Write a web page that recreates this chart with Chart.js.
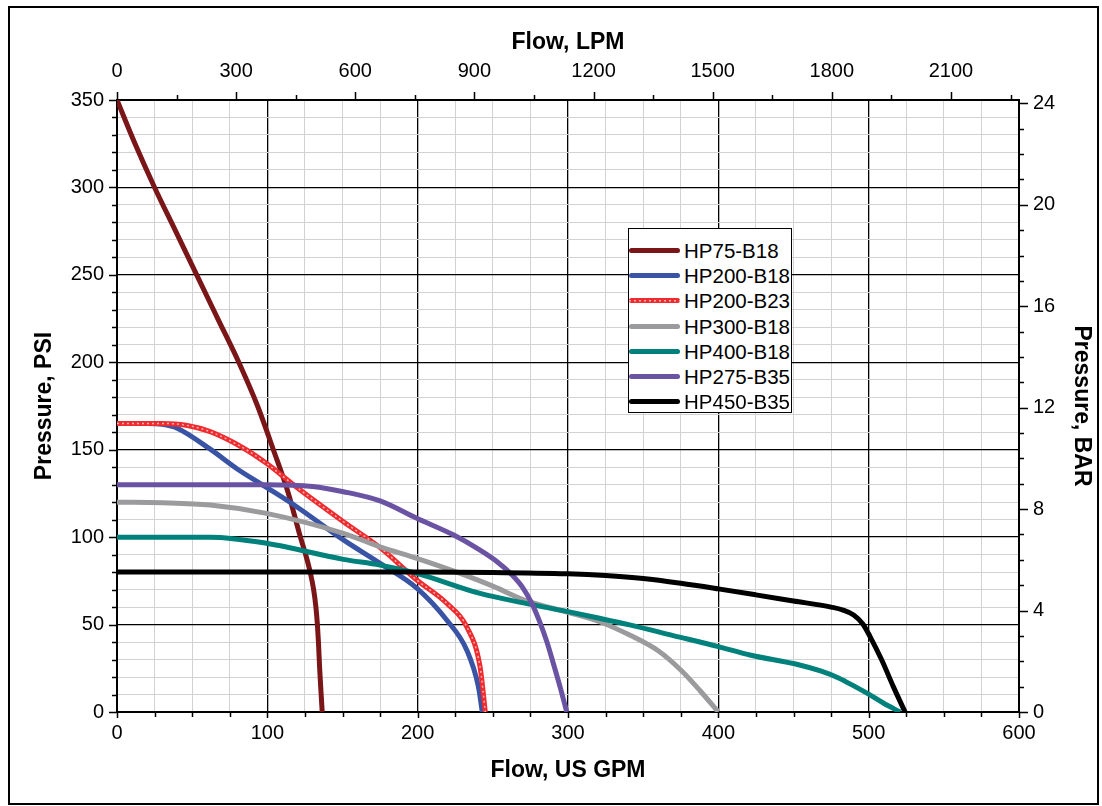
<!DOCTYPE html>
<html>
<head>
<meta charset="utf-8">
<script src="https://cdn.jsdelivr.net/npm/chart.js@4.4.1/dist/chart.umd.min.js"></script>
<style>
  body { margin: 0; background: #fff; font-family: "Liberation Sans", Arial, sans-serif; }
  #wrap { position: relative; width: 1102px; height: 806px; }
  #frame { position: absolute; left: 8px; top: 6px; width: 1087px; height: 795px; border: 2px solid #000; pointer-events: none; }
  #legend { position: absolute; left: 628px; top: 228px; width: 164px; height: 185px; border: 1px solid #000; background: #fff; box-sizing: border-box; padding-top: 9px; }
  .row { position: relative; height: 25.2px; }
  .row .ln { position: absolute; left: 0px; top: 10px; width: 51px; height: 5px; border-radius: 3px; }
  .row .tx { position: absolute; left: 55px; top: 0px; font-size: 20.5px; line-height: 25px; color: #000; white-space: nowrap; }
</style>
</head>
<body>
<div id="wrap">
  <canvas id="grafica" width="1102" height="806"></canvas>
  <div id="legend"></div>
  <div id="frame"></div>
</div>
<script>
// series names and colours
const names = ["HP75-B18", "HP200-B18", "HP200-B23", "HP300-B18", "HP400-B18", "HP275-B35", "HP450-B35"];
const colors = ["#7a1518", "#3a54a5", "#ee2b2e", "#9b9b9d", "#00817b", "#6b53a3", "#000000"];

// flow (US GPM) and pressure (PSI)
const hp75Gpm = [0, 12, 25, 39, 53, 67, 81, 93.5, 104, 114, 122, 125.5, 128.5, 130.8, 132.3, 133.3, 134, 134.8, 135.8, 136.5];
const hp75Psi = [350, 325, 300, 275, 250, 225, 200, 175, 150, 125, 100, 90, 80, 70, 60, 50, 40, 25, 10, 0];

const hp200b18Gpm = [0, 20, 30, 40, 62, 80, 99.4, 119.5, 150.6, 175, 199.4, 219.3, 232.6, 240.4, 243];
const hp200b18Psi = [165, 165, 164.5, 162.3, 150.3, 139, 128.5, 117.4, 98.4, 85, 70.8, 52.6, 35.5, 14.5, 0];

const hp200b23Gpm = [0, 30, 46, 62, 84, 99.4, 119.5, 150.6, 175, 199.4, 219.3, 232.6, 241.5, 245];
const hp200b23Psi = [165, 165, 164, 160.3, 151, 142.2, 128.5, 108.8, 94, 75.5, 62.2, 48.8, 25.9, 0];

const hp300Gpm = [0, 30, 62, 99.4, 150.6, 175, 199.4, 226, 250, 272.5, 300, 321, 341, 360, 375, 388, 400];
const hp300Psi = [120, 119.7, 118.4, 113.6, 102.2, 94.5, 87.9, 80, 72, 63.5, 57, 51.6, 44, 35, 24, 12, 0];

const hp400Gpm = [0, 30, 62, 99.4, 150.6, 175, 199.4, 241.5, 272.5, 300, 321, 341, 370, 400, 421, 454, 468, 480, 491, 500, 510, 520.9];
const hp400Psi = [100, 100, 100, 96.5, 87.3, 84, 79.3, 67.8, 62, 57.4, 53.6, 49.8, 43.7, 37.4, 32.6, 26.9, 23.5, 19.5, 14.5, 10.2, 5, 0];

const hp275Gpm = [0, 50, 100, 130, 150.6, 175, 199.4, 224, 241.5, 252, 262, 270, 276, 281, 286, 290.5, 295, 299.2];
const hp275Psi = [130, 130, 130, 129, 126, 120.7, 110.8, 101.2, 92.6, 86.5, 79, 71, 62, 52, 40, 27, 13.5, 0];

const hp450Gpm = [0, 100, 200, 250, 300, 325, 350, 375, 400, 425, 450, 475, 483, 490, 496, 501, 508.7, 516.4, 524.2];
const hp450Psi = [80, 80, 80, 79.8, 79, 78, 76.3, 73.6, 70.4, 67, 63.5, 60, 58.3, 55.5, 50.5, 43, 29.7, 14.5, 0];

const seriesGpm = [hp75Gpm, hp200b18Gpm, hp200b23Gpm, hp300Gpm, hp400Gpm, hp275Gpm, hp450Gpm];
const seriesPsi = [hp75Psi, hp200b18Psi, hp200b23Psi, hp300Psi, hp400Psi, hp275Psi, hp450Psi];

// tick labels of the four axes
const gpmLabels = [0, 100, 200, 300, 400, 500, 600];
const psiLabels = [0, 50, 100, 150, 200, 250, 300, 350];
const lpmLabels = [0, 300, 600, 900, 1200, 1500, 1800, 2100];
const barLabels = [0, 4, 8, 12, 16, 20, 24];

// axis ranges and minor steps
const gpmMax = 600;
const psiMax = 350;
const lpmPerGpm = 3.78541;
const psiPerBar = 14.5038;
const gpmMinor = 25, psiMinor = 10, lpmMinor = 150, barMinor = 1;

function puntos(i) {
  return seriesGpm[i].map((g, k) => ({ x: g, y: seriesPsi[i][k] }));
}

const datasets = names.map((n, i) => ({
  label: n,
  data: puntos(i),
  borderColor: colors[i],
  borderWidth: 5,
  cubicInterpolationMode: "monotone",
  pointRadius: 0,
  fill: false,
  xAxisID: "x",
  yAxisID: "y",
  order: 10 - i,
}));
// light dotted trace inside the red curve
datasets.push({
  label: "HP200-B23 dots",
  data: puntos(2),
  borderColor: "rgba(255,190,190,0.9)",
  borderWidth: 1.5,
  borderDash: [2, 3],
  cubicInterpolationMode: "monotone",
  pointRadius: 0,
  fill: false,
  xAxisID: "x",
  yAxisID: "y",
  order: 7,
});

const tickFont = { family: "'Liberation Sans', Arial, sans-serif", size: 20 };
const titleFont = { family: "'Liberation Sans', Arial, sans-serif", size: 23, weight: "bold" };

function esLabel(v, lista) {
  return lista.some((m) => Math.abs(m - v) < 1e-6);
}

// ticks every minor step; labels only where listed
function pasos(max, paso) {
  const t = [];
  for (let k = 0; k * paso <= max + 1e-6; k++) t.push({ value: k * paso });
  return t;
}

// tick marks drawn outside the plot, major longer than minor
const marcas = {
  id: "marcas",
  afterDraw(chart) {
    const ctx = chart.ctx;
    const s = chart.scales;
    ctx.save();
    ctx.strokeStyle = "#000";
    ctx.lineWidth = 1.5;
    ctx.beginPath();
    s.y.ticks.forEach((t) => {
      const y = Math.round(s.y.getPixelForValue(t.value)) + 0.5;
      const l = esLabel(t.value, psiLabels) ? 8 : 5;
      ctx.moveTo(s.y.right - l, y); ctx.lineTo(s.y.right, y);
    });
    s.x.ticks.forEach((t) => {
      const x = Math.round(s.x.getPixelForValue(t.value)) + 0.5;
      const l = esLabel(t.value, gpmLabels) ? 6 : 5;
      ctx.moveTo(x, s.x.top); ctx.lineTo(x, s.x.top + l);
    });
    s.x2.ticks.forEach((t) => {
      const x = Math.round(s.x2.getPixelForValue(t.value)) + 0.5;
      const l = esLabel(t.value, lpmLabels) ? 8 : 5;
      ctx.moveTo(x, s.x2.bottom); ctx.lineTo(x, s.x2.bottom - l);
    });
    s.y2.ticks.forEach((t) => {
      const y = Math.round(s.y2.getPixelForValue(t.value)) + 0.5;
      const l = esLabel(t.value, barLabels) ? 9 : 5;
      ctx.moveTo(s.y2.left, y); ctx.lineTo(s.y2.left + l, y);
    });
    ctx.stroke();
    ctx.restore();
  },
};

const ctx = document.getElementById("grafica");
new Chart(ctx, {
  type: "line",
  data: { datasets: datasets },
  plugins: [marcas],
  options: {
    responsive: false,
    animation: false,
    layout: { padding: 0 },
    plugins: { legend: { display: false }, tooltip: { enabled: false } },
    scales: {
      x: {
        type: "linear",
        position: "bottom",
        min: 0,
        max: gpmMax,
        afterFit: (sc) => { sc.height = 94; },
        afterBuildTicks: (sc) => { sc.ticks = pasos(gpmMax, gpmMinor); },
        ticks: {
          autoSkip: false,
          maxRotation: 0,
          padding: 9,
          color: "#000",
          font: tickFont,
          callback: (v) => (esLabel(v, gpmLabels) ? String(v) : ""),
        },
        grid: {
          drawTicks: false,
          color: (c) => (c.tick && esLabel(c.tick.value, gpmLabels) ? "#000" : "#d2d2d2"),
          lineWidth: (c) => (c.tick && esLabel(c.tick.value, gpmLabels) ? 1.3 : 1),
        },
        border: { display: true, color: "#000", width: 2 },
        title: { display: true, text: "Flow, US GPM", color: "#000", font: titleFont, padding: { top: 0, bottom: 22 } },
      },
      x2: {
        type: "linear",
        position: "top",
        min: 0,
        max: gpmMax * lpmPerGpm,
        afterFit: (sc) => { sc.height = 100; },
        afterBuildTicks: (sc) => { sc.ticks = pasos(gpmMax * lpmPerGpm, lpmMinor); },
        ticks: {
          autoSkip: false,
          maxRotation: 0,
          padding: 17,
          color: "#000",
          font: tickFont,
          callback: (v) => (esLabel(v, lpmLabels) ? String(v) : ""),
        },
        grid: { drawOnChartArea: false, drawTicks: false },
        border: { display: true, color: "#000", width: 2 },
        title: { display: true, text: "Flow, LPM", color: "#000", font: titleFont, padding: { top: 29, bottom: 0 } },
      },
      y: {
        type: "linear",
        position: "left",
        min: 0,
        max: psiMax,
        afterFit: (sc) => { sc.width = 117; },
        afterBuildTicks: (sc) => { sc.ticks = pasos(psiMax, psiMinor); },
        ticks: {
          autoSkip: false,
          padding: 13,
          color: "#000",
          font: tickFont,
          callback: (v) => (esLabel(v, psiLabels) ? String(v) : ""),
        },
        grid: {
          drawTicks: false,
          color: (c) => (c.tick && esLabel(c.tick.value, psiLabels) ? "#000" : "#d2d2d2"),
          lineWidth: (c) => (c.tick && esLabel(c.tick.value, psiLabels) ? 1.3 : 1),
        },
        border: { display: true, color: "#000", width: 2 },
        title: { display: true, text: "Pressure, PSI", color: "#000", font: titleFont, padding: { top: 31, bottom: 0 } },
      },
      y2: {
        type: "linear",
        position: "right",
        min: 0,
        max: psiMax / psiPerBar,
        afterFit: (sc) => { sc.width = 83; },
        afterBuildTicks: (sc) => { sc.ticks = pasos(psiMax / psiPerBar, barMinor); },
        ticks: {
          autoSkip: false,
          padding: 14,
          color: "#000",
          font: tickFont,
          callback: (v) => (esLabel(v, barLabels) ? String(v) : ""),
        },
        grid: { drawOnChartArea: false, drawTicks: false },
        border: { display: true, color: "#000", width: 2 },
        title: { display: true, text: "Pressure, BAR", color: "#000", font: titleFont, padding: { top: 7, bottom: 0 } },
      },
    },
  },
});

// legend box inside the plot
const leyenda = document.getElementById("legend");
names.forEach((n, i) => {
  const row = document.createElement("div");
  row.className = "row";
  const ln = document.createElement("span");
  ln.className = "ln";
  ln.style.background = colors[i];
  if (i === 2) {
    ln.style.backgroundImage = "repeating-linear-gradient(90deg, rgba(255,190,190,0.9) 0 2px, transparent 2px 5px)";
    ln.style.backgroundSize = "100% 1.5px";
    ln.style.backgroundPosition = "0 50%";
    ln.style.backgroundRepeat = "no-repeat";
    ln.style.backgroundColor = colors[i];
  }
  const tx = document.createElement("span");
  tx.className = "tx";
  tx.textContent = n;
  row.appendChild(ln);
  row.appendChild(tx);
  leyenda.appendChild(row);
});
</script>
</body>
</html>
